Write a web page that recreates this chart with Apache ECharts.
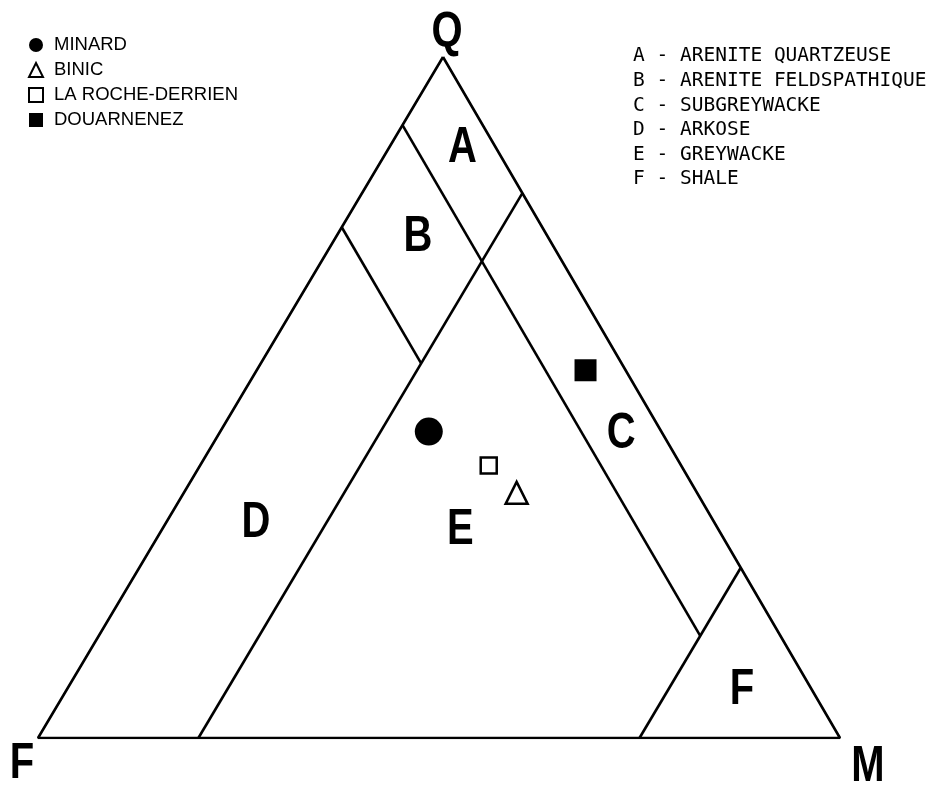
<!DOCTYPE html>
<html>
<head>
<meta charset="utf-8">
<script src="https://cdn.jsdelivr.net/npm/echarts@6/dist/echarts.min.js"></script>
<style>
html,body{margin:0;padding:0;background:#fff}
#main{width:938px;height:789px}
</style>
</head>
<body>
<div id="main"></div>
<script>
// compositions are [Q, F, M] in %
const sampleNames = ['MINARD', 'BINIC', 'LA ROCHE-DERRIEN', 'DOUARNENEZ']
const sampleQFM = [[45, 29, 26], [36, 22.5, 41.5], [40, 24, 36], [54, 5, 41]]
const classNames = ['A - ARENITE QUARTZEUSE', 'B - ARENITE FELDSPATHIQUE', 'C - SUBGREYWACKE',
    'D - ARKOSE', 'E - GREYWACKE', 'F - SHALE']
const regionLetters = ['A', 'B', 'C', 'D', 'E', 'F']
const regionQFM = [[87, 4, 9], [74, 16, 10], [45, 5, 50], [32, 57, 11], [31, 32, 37], [7.5, 8.5, 84]]
// field boundaries: constant F = 10, F = 25, M = 20, M = 75
const boundaries = [
    [[100, 0, 0], [0, 100, 0], [0, 0, 100], [100, 0, 0]],
    [[90, 10, 0], [15, 10, 75]],
    [[75, 25, 0], [55, 25, 20]],
    [[80, 0, 20], [0, 80, 20]],
    [[25, 0, 75], [0, 25, 75]]
]
const vertexNames = ['Q', 'F', 'M']
const vertexQFM = [[100, 0, 0], [0, 100, 0], [0, 0, 100]]

// ternary -> cartesian (x across the base, y = Q)
function toXY(c) {
    return [c[2] + c[0] * 0.505, c[0]]
}

const bigFont = "bold 50px 'Liberation Sans', Arial, sans-serif"
const symbols = ['circle', 'triangle', 'rect', 'rect']
const sizes = [28, 22, 16, 22]
const fills = ['#000', '#fff', '#fff', '#000']

let series = []
boundaries.forEach(function (b) {
    series.push({
        type: 'line',
        data: b.map(toXY),
        symbol: 'none',
        silent: true,
        lineStyle: { color: '#000', width: 2.6 },
        z: 1
    })
})
sampleNames.forEach(function (name, i) {
    series.push({
        name: name,
        type: 'scatter',
        data: [toXY(sampleQFM[i])],
        symbol: symbols[i],
        symbolSize: sizes[i],
        itemStyle: { color: fills[i], borderColor: '#000', borderWidth: i == 1 || i == 2 ? 2.5 : 0, opacity: 1 },
        z: 5
    })
})

var myChart = echarts.init(document.getElementById('main'))
var option = {
    animation: false,
    backgroundColor: '#fff',
    grid: { left: 38, top: 57, width: 802, height: 681 },
    xAxis: { type: 'value', min: 0, max: 100, show: false },
    yAxis: { type: 'value', min: 0, max: 100, show: false },
    legend: {
        data: sampleNames,
        orient: 'vertical',
        left: 23,
        top: 30,
        itemWidth: 14,
        itemHeight: 14,
        itemGap: 5,
        selectedMode: false,
        textStyle: {
            color: '#000', fontSize: 18.5, lineHeight: 20,
            fontFamily: "'Liberation Sans', Arial, sans-serif",
            padding: [0, 0, 0, 6]
        }
    },
    graphic: [{
        type: 'text',
        left: 633,
        top: 44,
        style: {
            text: classNames.join('\n'),
            font: "19.5px 'DejaVu Sans Mono', monospace",
            lineHeight: 24.6,
            fill: '#000'
        }
    }],
    series: series
}
myChart.setOption(option)

// big condensed letters, placed through the grid's scales
let letters = []
regionQFM.forEach(function (c, i) {
    let p = myChart.convertToPixel({ gridIndex: 0 }, toXY(c))
    letters.push({
        type: 'text', x: p[0], y: p[1] + 3, scaleX: 0.8,
        style: { text: regionLetters[i], font: bigFont, textAlign: 'center', textVerticalAlign: 'middle', fill: '#000' }
    })
})
const vertexOffsets = [[4, -24], [-16, 26], [28, 29]]
vertexQFM.forEach(function (c, i) {
    let p = myChart.convertToPixel({ gridIndex: 0 }, toXY(c))
    letters.push({
        type: 'text', x: p[0] + vertexOffsets[i][0], y: p[1] + vertexOffsets[i][1], scaleX: 0.8,
        style: { text: vertexNames[i], font: bigFont, textAlign: 'center', textVerticalAlign: 'middle', fill: '#000' }
    })
})
myChart.setOption({ graphic: option.graphic.concat(letters) })
</script>
</body>
</html>
